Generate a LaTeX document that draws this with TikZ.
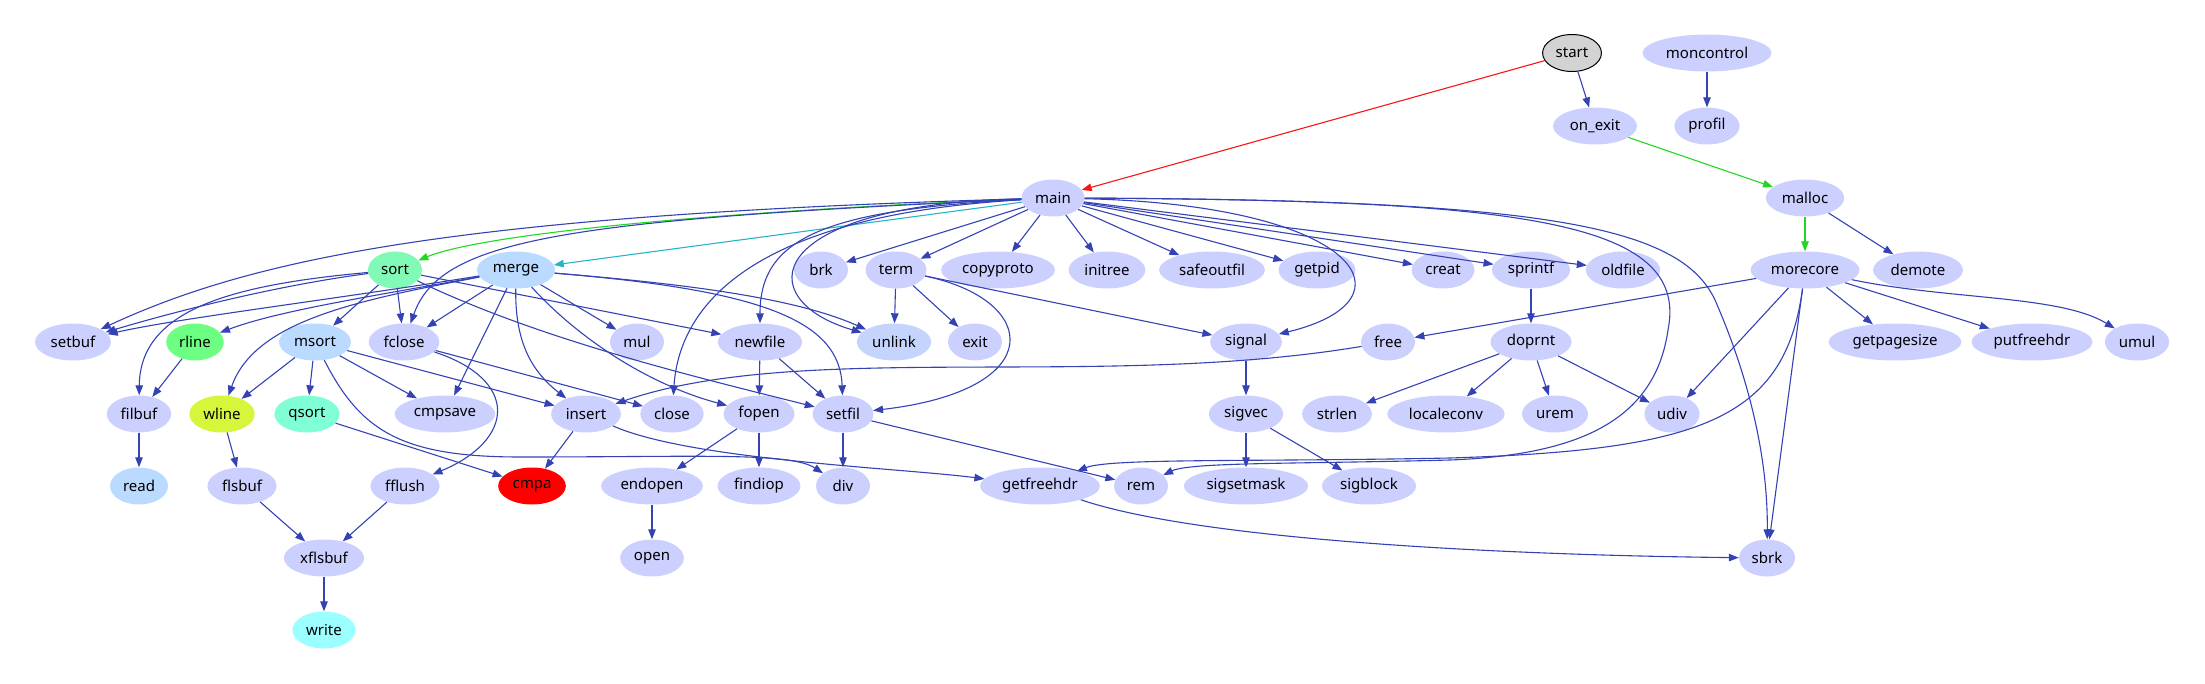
\documentclass[tikz,border=0pt]{standalone}
\usepackage{fontspec}
\setmainfont{Noto Sans}
\usetikzlibrary{arrows.meta,shapes.geometric}
\definecolor{fNode}{RGB}{204,208,255}
\definecolor{fBlue}{RGB}{186,218,255}
\definecolor{fLink}{RGB}{196,212,253}
\definecolor{fSort}{RGB}{128,250,182}
\definecolor{fRline}{RGB}{108,255,130}
\definecolor{fWline}{RGB}{214,246,60}
\definecolor{fQsort}{RGB}{128,255,214}
\definecolor{fWrite}{RGB}{155,255,255}
\definecolor{fStart}{RGB}{211,211,211}
\definecolor{dEdge}{RGB}{52,66,180}
\definecolor{dRed}{RGB}{250,20,20}
\definecolor{dGreen}{RGB}{34,214,34}
\definecolor{dTeal}{RGB}{40,180,200}

\begin{document}
\begin{tikzpicture}[x=1pt,y=-1pt,
  fn/.style={ellipse,fill=fNode,inner xsep=4.5pt,inner ysep=0pt,minimum height=37pt,minimum width=54pt,font=\fontsize{15}{17}\selectfont},
  ar/.style={-{Triangle[length=10pt,width=7.5pt]},line width=1.1pt,dEdge}]
\useasboundingbox (0,0) rectangle (2205,684);
% top rows
\node[fn,fill=fStart,draw=black,line width=1pt] (start) at (1572,53) {start};
\node[fn] (moncontrol) at (1707,53) {moncontrol};
\node[fn] (onexit) at (1595,126) {on\_exit};
\node[fn] (profil) at (1707,126) {profil};
\node[fn] (main) at (1053,198) {main};
\node[fn] (malloc) at (1805,198) {malloc};
% row of sort
\node[fn,fill=fSort] (sort) at (395,270) {sort};
\node[fn,fill=fBlue] (merge) at (516,270) {merge};
\node[fn] (brk) at (821,270) {brk};
\node[fn] (term) at (896,270) {term};
\node[fn] (copyproto) at (998,270) {copyproto};
\node[fn] (initree) at (1107,270) {initree};
\node[fn] (safeoutfil) at (1212,270) {safeoutfil};
\node[fn] (getpid) at (1317,270) {getpid};
\node[fn] (creat) at (1443,270) {creat};
\node[fn] (sprintf) at (1531,270) {sprintf};
\node[fn] (oldfile) at (1623,270) {oldfile};
\node[fn] (morecore) at (1805,270) {morecore};
\node[fn] (demote) at (1918,270) {demote};
% row of setbuf
\node[fn] (setbuf) at (73,342) {setbuf};
\node[fn,fill=fRline] (rline) at (195,342) {rline};
\node[fn,fill=fBlue] (msort) at (315,342) {msort};
\node[fn] (fclose) at (404,342) {fclose};
\node[fn] (mul) at (637,342) {mul};
\node[fn] (newfile) at (760,342) {newfile};
\node[fn,fill=fLink] (unlink) at (894,342) {unlink};
\node[fn] (exit) at (975,342) {exit};
\node[fn] (signal) at (1246,342) {signal};
\node[fn] (free) at (1388,342) {free};
\node[fn] (doprnt) at (1531,342) {doprnt};
\node[fn] (getpagesize) at (1895,342) {getpagesize};
\node[fn] (putfreehdr) at (2032,342) {putfreehdr};
\node[fn] (umul) at (2137,342) {umul};
% row of filbuf
\node[fn] (filbuf) at (139,414) {filbuf};
\node[fn,fill=fWline] (wline) at (222,414) {wline};
\node[fn,fill=fQsort] (qsort) at (307,414) {qsort};
\node[fn] (cmpsave) at (445,414) {cmpsave};
\node[fn] (insert) at (586,414) {insert};
\node[fn] (close) at (672,414) {close};
\node[fn] (fopen) at (759,414) {fopen};
\node[fn] (setfil) at (843,414) {setfil};
\node[fn] (sigvec) at (1246,414) {sigvec};
\node[fn] (strlen) at (1337,414) {strlen};
\node[fn] (localeconv) at (1446,414) {localeconv};
\node[fn] (urem) at (1555,414) {urem};
\node[fn] (udiv) at (1672,414) {udiv};
% row of read
\node[fn,fill=fBlue] (read) at (139,486) {read};
\node[fn] (flsbuf) at (242,486) {flsbuf};
\node[fn] (fflush) at (405,486) {fflush};
\node[fn,fill=red] (cmpa) at (532,486) {cmpa};
\node[fn] (endopen) at (652,486) {endopen};
\node[fn] (findiop) at (759,486) {findiop};
\node[fn] (div) at (843,486) {div};
\node[fn] (getfreehdr) at (1040,486) {getfreehdr};
\node[fn] (rem) at (1141,486) {rem};
\node[fn] (sigsetmask) at (1246,486) {sigsetmask};
\node[fn] (sigblock) at (1369,486) {sigblock};
% bottom
\node[fn] (xflsbuf) at (324,558) {xflsbuf};
\node[fn] (open) at (652,558) {open};
\node[fn] (sbrk) at (1767,558) {sbrk};
\node[fn,fill=fWrite] (write) at (324,630) {write};

% coloured calls
\draw[ar,dRed] (start) -- (main);
\draw[ar,dGreen] (onexit) -- (malloc);
\draw[ar,dGreen] (malloc) -- (morecore);
\draw[ar,dTeal] (main) -- (merge);
\draw[ar,dGreen] (main) .. controls (700,212) and (480,235) .. (sort);

% plain calls
\foreach \a/\b in {start/onexit,moncontrol/profil,main/brk,main/term,main/copyproto,main/initree,
  main/safeoutfil,main/getpid,main/creat,main/sprintf,main/oldfile,sort/msort,sort/fclose,sort/newfile,
  merge/fclose,merge/cmpsave,merge/mul,term/unlink,term/exit,term/signal,newfile/fopen,newfile/setfil,
  msort/wline,msort/qsort,msort/cmpsave,msort/insert,rline/filbuf,fclose/close,filbuf/read,wline/flsbuf,
  qsort/cmpa,insert/cmpa,fopen/endopen,fopen/findiop,setfil/div,setfil/rem,signal/sigvec,
  sigvec/sigsetmask,sigvec/sigblock,sprintf/doprnt,doprnt/strlen,doprnt/localeconv,doprnt/urem,
  doprnt/udiv,malloc/demote,morecore/free,morecore/udiv,morecore/getpagesize,morecore/putfreehdr,
  morecore/sbrk,flsbuf/xflsbuf,fflush/xflsbuf,xflsbuf/write,endopen/open}
  \draw[ar] (\a) -- (\b);

% curved calls
\draw[ar] (main) .. controls (450,215) and (250,260) .. (setbuf);
\draw[ar] (main) .. controls (560,220) and (440,240) .. (fclose);
\draw[ar] (main) .. controls (820,210) and (760,240) .. (newfile);
\draw[ar] (main) .. controls (760,205) and (750,300) .. (unlink);
\draw[ar] (main) .. controls (760,215) and (680,300) .. (close);
\draw[ar] (main) .. controls (1360,205) and (1420,300) .. (signal);
\draw[ar] (main) .. controls (1520,200) and (1690,220) .. (1668,330) .. controls (1655,420) and (1580,455) .. (1450,460) .. controls (1300,464) and (1190,462) .. (rem);
\draw[ar] (main) .. controls (1540,200) and (1680,225) .. (1715,300) .. controls (1750,380) and (1768,460) .. (sbrk);
\draw[ar] (morecore) .. controls (1785,420) and (1700,450) .. (1450,458) .. controls (1250,462) and (1110,458) .. (getfreehdr);
\draw[ar] (morecore) .. controls (1950,300) and (2060,295) .. (umul);
\draw[ar] (sort) .. controls (230,285) and (140,310) .. (filbuf);
\draw[ar] (sort) .. controls (280,285) and (180,310) .. (setbuf);
\draw[ar] (merge) .. controls (330,300) and (180,318) .. (setbuf);
\draw[ar] (merge) .. controls (380,295) and (280,310) .. (rline);
\draw[ar] (merge) .. controls (360,300) and (255,320) .. (wline);
\draw[ar] (sort) .. controls (540,340) and (700,378) .. (setfil);
\draw[ar] (merge) .. controls (700,285) and (800,300) .. (unlink);
\draw[ar] (merge) .. controls (760,290) and (840,320) .. (setfil);
\draw[ar] (merge) .. controls (515,340) and (530,370) .. (insert);
\draw[ar] (merge) .. controls (580,340) and (650,385) .. (fopen);
\draw[ar] (msort) .. controls (360,430) and (400,457) .. (520,457) .. controls (700,457) and (790,452) .. (div);
\draw[ar] (fclose) .. controls (520,380) and (515,440) .. (fflush);
\draw[ar] (insert) .. controls (690,460) and (900,468) .. (getfreehdr);
\draw[ar] (free) .. controls (1100,390) and (800,340) .. (insert);
\draw[ar] (term) .. controls (1040,300) and (1050,390) .. (setfil);
\draw[ar] (getfreehdr) .. controls (1200,540) and (1500,555) .. (sbrk);
\end{tikzpicture}
\end{document}
